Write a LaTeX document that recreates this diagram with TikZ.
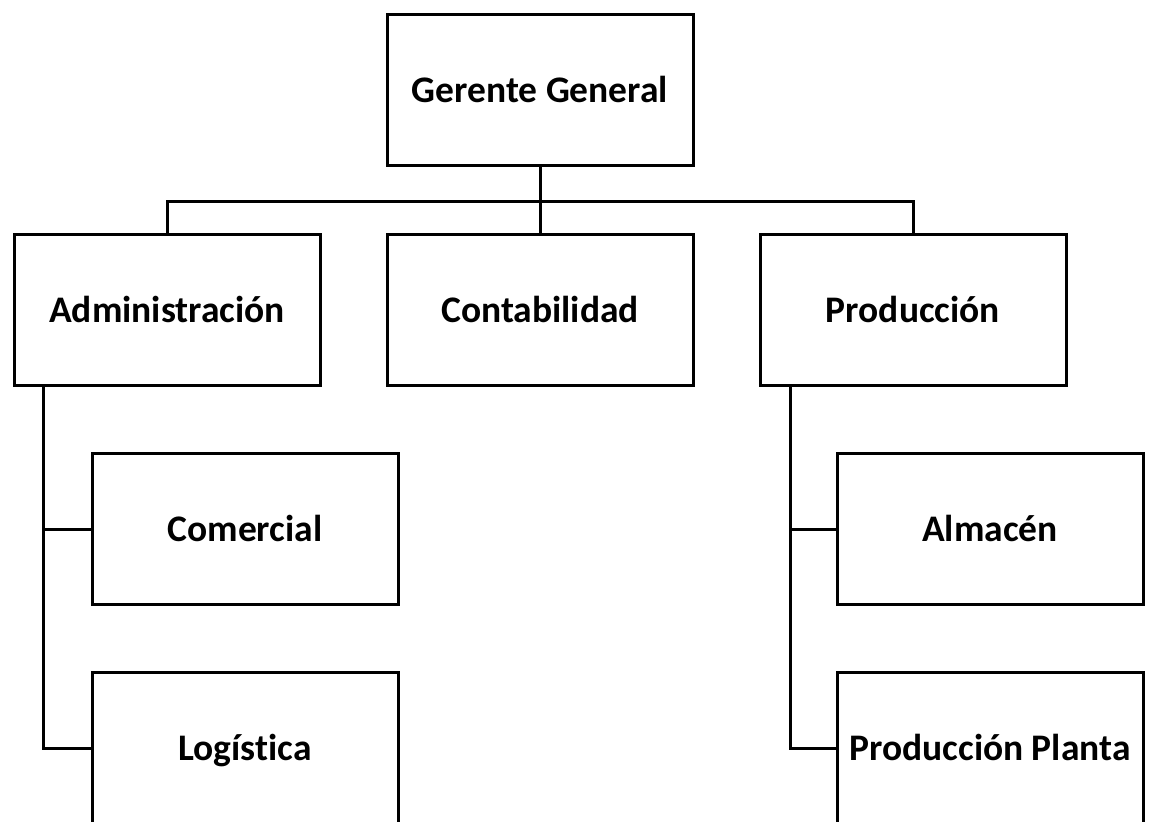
\documentclass[tikz,border=0pt]{standalone}
\usepackage{fontspec}
\setmainfont[Ligatures=NoCommon]{Carlito}
\usetikzlibrary{positioning}

\tikzset{
  orgbox/.style={draw,line width=3pt,fill=white,minimum width=306pt,minimum height=151pt,
    inner sep=0pt,text height=34pt,text depth=10pt,font=\bfseries\fontsize{37.5}{44}\selectfont},
  orgline/.style={line width=3pt}
}

\begin{document}
\begin{tikzpicture}[x=1pt,y=-1pt]
% page frame of the chart
\useasboundingbox (0,0) rectangle (1152,822);
\clip (0,0) rectangle (1152,822);
% boxes
\node[orgbox] (gg) at (540,90) {Gerente General};
\node[orgbox] (adm) at (167,310) {Administración};
\node[orgbox] (cont) at (540,310) {Contabilidad};
\node[orgbox] (prod) at (913,310) {Producción};
\node[orgbox] (com) at (245,529) {Comercial};
\node[orgbox] (log) at (245,748) {Logística};
\node[orgbox] (alm) at (990,529) {Almacén};
\node[orgbox] (pp) at (990,748) {Producción Planta};
% connectors
\coordinate (bus) at (540,201);
\draw[orgline] (gg.south) -- (cont.north);
\draw[orgline] (adm.north) |- (bus) -| (prod.north);
\coordinate (admtrunk) at ([xshift=31pt]adm.south west);
\coordinate (prodtrunk) at ([xshift=32pt]prod.south west);
\draw[orgline] (admtrunk) |- (log.west);
\draw[orgline] (admtrunk |- com.west) -- (com.west);
\draw[orgline] (prodtrunk) |- (pp.west);
\draw[orgline] (prodtrunk |- alm.west) -- (alm.west);
\end{tikzpicture}
\end{document}
